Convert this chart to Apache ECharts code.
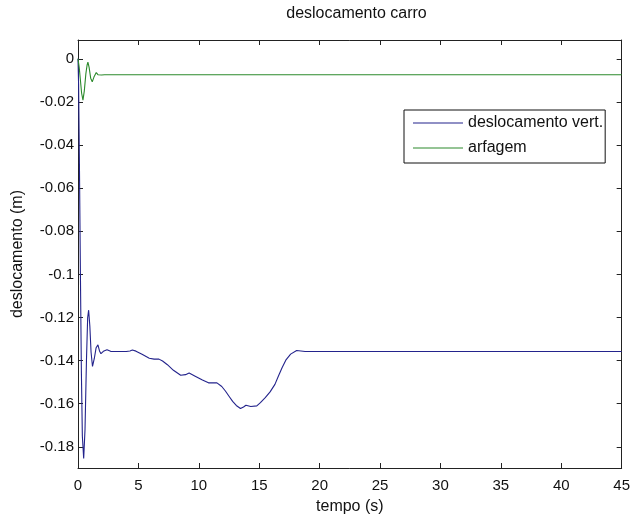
<!DOCTYPE html>
<html>
<head>
<meta charset="utf-8">
<script src="https://cdn.jsdelivr.net/npm/echarts@6/dist/echarts.min.js"></script>
<style>
  html, body { margin: 0; padding: 0; background: #fff; }
  #chart { width: 633px; height: 520px; }
</style>
</head>
<body>
<div id="chart"></div>
<script>
// Vertical displacement of the car body (m) over time (s)
const vertTime = [0, 0.05, 0.12, 0.2, 0.28, 0.36, 0.47, 0.58, 0.7, 0.8, 0.88, 0.98, 1.08, 1.2, 1.35, 1.5, 1.65, 1.78, 1.9, 2.1, 2.4, 2.7, 3.2, 4.0, 4.3, 4.5, 4.8, 5.3, 5.9, 6.3, 6.7, 7.0, 7.4, 7.9, 8.5, 8.9, 9.2, 9.7, 10.3, 10.8, 11.5, 11.9, 12.2, 12.5, 12.8, 13.1, 13.45, 13.7, 13.9, 14.3, 14.8, 15.1, 15.5, 15.9, 16.3, 16.6, 16.9, 17.2, 17.6, 18.1, 18.8, 45];
const vertDisp = [0, -0.012, -0.05, -0.1, -0.145, -0.175, -0.1854, -0.172, -0.14, -0.12, -0.1166, -0.124, -0.136, -0.1427, -0.139, -0.134, -0.1327, -0.1355, -0.1368, -0.1357, -0.135, -0.1357, -0.1358, -0.1358, -0.1355, -0.1351, -0.1356, -0.137, -0.1389, -0.1393, -0.1393, -0.1402, -0.1419, -0.1445, -0.1468, -0.1465, -0.1457, -0.1472, -0.149, -0.1503, -0.1503, -0.152, -0.1541, -0.1565, -0.1589, -0.1608, -0.1622, -0.1615, -0.1607, -0.1613, -0.161, -0.1595, -0.1572, -0.1545, -0.151, -0.147, -0.1432, -0.1398, -0.137, -0.1353, -0.1358, -0.1358];

// Pitch (arfagem) response over time (s)
const pitchTime = [0, 0.1, 0.2, 0.3, 0.41, 0.52, 0.65, 0.75, 0.82, 0.92, 1.05, 1.18, 1.32, 1.51, 1.65, 1.79, 1.95, 2.2, 45];
const pitchDisp = [0, -0.004, -0.01, -0.016, -0.0192, -0.015, -0.007, -0.003, -0.0016, -0.004, -0.009, -0.0107, -0.0085, -0.0064, -0.0074, -0.0081, -0.0075, -0.0074, -0.0074];

// Axis ticks
const xTicks = [0, 5, 10, 15, 20, 25, 30, 35, 40, 45];
const yTicks = [0, -0.02, -0.04, -0.06, -0.08, -0.1, -0.12, -0.14, -0.16, -0.18];
const yLimits = [-0.1898, 0.0087];

const seriesNames = ['deslocamento vert.', 'arfagem'];

const FONT = "'Liberation Sans', Arial, sans-serif";
const FS_TICK = 15;
const FS_TEXT = 16;
const AX = '#222';

function pairs(t, v) { return t.map((x, i) => [x, v[i]]); }

const chart = echarts.init(document.getElementById('chart'), null, { renderer: 'canvas' });

const tickCommon = { show: true, inside: true, length: 5, lineStyle: { color: AX, width: 1 } };
const lineCommon = { show: true, onZero: false, lineStyle: { color: AX, width: 1 } };

chart.setOption({
  animation: false,
  backgroundColor: '#fff',
  title: {
    text: 'deslocamento carro',
    left: 351.5,
    top: 1,
    textAlign: 'center',
    textStyle: { fontFamily: FONT, fontSize: FS_TEXT, fontWeight: 'normal', color: '#111' }
  },
  grid: { left: 78, right: 8, top: 40, bottom: 48, containLabel: false },
  legend: {
    orient: 'vertical',
    left: 404,
    top: 110,
    data: seriesNames,
    icon: 'rect',
    itemWidth: 50,
    itemHeight: 1.2,
    itemGap: 9,
    padding: [5, 2, 7, 9],
    borderColor: '#111',
    borderWidth: 1,
    backgroundColor: '#fff',
    textStyle: { fontFamily: FONT, fontSize: FS_TEXT, color: '#111' }
  },
  xAxis: [
    {
      type: 'value', min: xTicks[0], max: xTicks[xTicks.length - 1], interval: 5, position: 'bottom',
      name: 'tempo (s)', nameLocation: 'middle', nameGap: 31,
      nameTextStyle: { fontFamily: FONT, fontSize: FS_TEXT, color: '#111' },
      axisLine: lineCommon, axisTick: tickCommon, splitLine: { show: false },
      axisLabel: { margin: 10, fontFamily: FONT, fontSize: FS_TICK, color: '#111' }
    },
    {
      type: 'value', min: xTicks[0], max: xTicks[xTicks.length - 1], interval: 5, position: 'top',
      axisLine: lineCommon, axisTick: tickCommon, splitLine: { show: false },
      axisLabel: { show: false }
    }
  ],
  yAxis: [
    {
      type: 'value', min: yLimits[0], max: yLimits[1], position: 'left',
      name: 'deslocamento (m)', nameLocation: 'middle', nameGap: 52,
      nameTextStyle: { fontFamily: FONT, fontSize: FS_TEXT, color: '#111' },
      axisLine: lineCommon,
      axisTick: Object.assign({}, tickCommon, { customValues: yTicks }),
      splitLine: { show: false },
      axisLabel: {
        customValues: yTicks, margin: 4, fontFamily: FONT, fontSize: FS_TICK, color: '#111',
        formatter: v => (Math.abs(v) < 1e-9 ? '0' : String(+v.toFixed(2)))
      }
    },
    {
      type: 'value', min: yLimits[0], max: yLimits[1], position: 'right',
      axisLine: lineCommon,
      axisTick: Object.assign({}, tickCommon, { customValues: yTicks }),
      splitLine: { show: false },
      axisLabel: { show: false }
    }
  ],
  series: [
    {
      name: seriesNames[0], type: 'line', xAxisIndex: 0, yAxisIndex: 0,
      data: pairs(vertTime, vertDisp), showSymbol: false, symbol: 'none',
      lineStyle: { color: '#23238c', width: 1.1 }, itemStyle: { color: '#23238c' }
    },
    {
      name: seriesNames[1], type: 'line', xAxisIndex: 0, yAxisIndex: 0,
      data: pairs(pitchTime, pitchDisp), showSymbol: false, symbol: 'none',
      lineStyle: { color: '#2c8a2c', width: 1.1 }, itemStyle: { color: '#2c8a2c' }
    }
  ]
});
</script>
</body>
</html>
